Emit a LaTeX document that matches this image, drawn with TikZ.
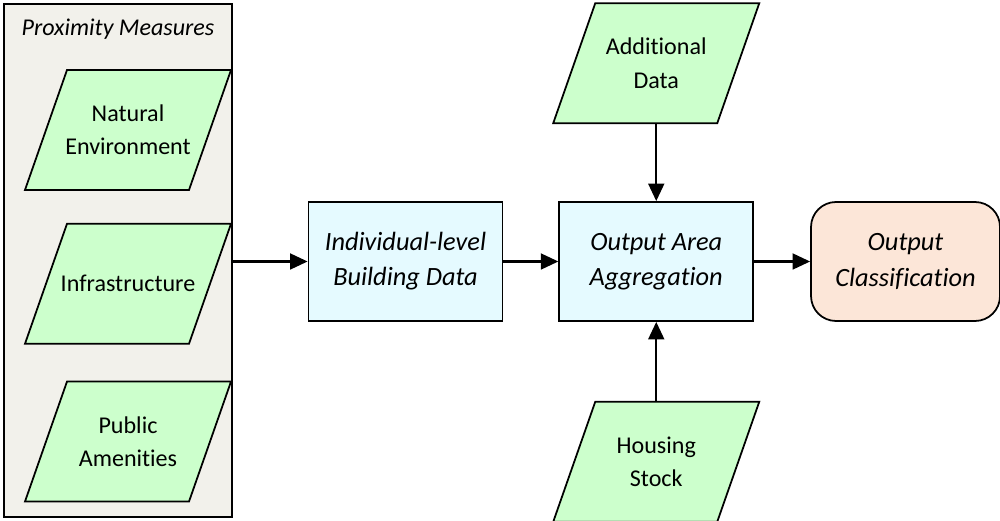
\documentclass[tikz,border=0pt]{standalone}
\usepackage{fontspec}
\setmainfont[Ligatures=NoCommon]{Carlito}
\usepackage{tikz}
\usetikzlibrary{
  shapes.geometric,
  arrows.meta,
  positioning,
  calc
}
\definecolor{datagreen}{HTML}{CCFFCC}
\definecolor{procblue}{HTML}{E5FAFF}
\definecolor{outorange}{HTML}{FCE6D8}
\definecolor{groupgray}{HTML}{F2F1EB}
\newcommand{\bodyfont}{\fontsize{13.7}{19}\selectfont}
\newcommand{\boxfont}{\fontsize{15}{20}\selectfont\itshape}
\tikzset{
  arrow/.style     = {-{Triangle[length=10pt, width=9pt]}, line width=1.4pt},
  groupbox/.style  = {draw, line width=1pt, fill=groupgray},
  datablock/.style = {draw, line width=1pt, fill=datagreen,
                      trapezium, trapezium left angle=70.7,
                      trapezium right angle=109.3,
                      inner sep=0.05cm,
                      execute at begin node={\begin{minipage}[c][2.3cm][c]{2.34cm}%
                        \centering\leftskip=-1cm plus 1fil\rightskip=-1cm plus 1fil
                        \bodyfont},
                      execute at end node={\end{minipage}}},
  procblock/.style = {draw, line width=1pt, fill=procblue,
                      minimum width=3.88cm, minimum height=2.38cm,
                      align=center, font=\boxfont},
  outblock/.style  = {draw, line width=1pt, fill=outorange,
                      rounded corners=0.5cm,
                      minimum width=3.78cm, minimum height=2.38cm,
                      align=center, font=\boxfont},
}

\begin{document}
\begin{tikzpicture}[node distance=1.1cm]
\useasboundingbox (0,0) rectangle (20,10.42);

% ========== LEFT: proximity measures ==========
\node[groupbox, minimum width=4.56cm, minimum height=10.26cm] (prox) at (2.36,5.21) {};
\node[font=\bodyfont\itshape] (proxtitle) at (2.36,9.84) {Proximity Measures};

\node[datablock] (natural) at (2.56,7.82) {Natural\\Environment};
\node[datablock, below=0.64cm of natural] (infra) {Infrastructure};
\node[datablock, below=0.72cm of infra] (public) {Public\\Amenities};

% ========== MIDDLE: processing ==========
\node[procblock] (indiv) at (8.11,5.19) {Individual-level\\Building Data};
\node[procblock, right=of indiv] (agg) {Output Area\\Aggregation};
\node[datablock, above=1.54cm of agg] (addit) {Additional\\Data};
\node[datablock, below=1.58cm of agg] (housing) {Housing\\Stock};

% ========== RIGHT: output ==========
\node[outblock, right=1.12cm of agg] (outcls) {Output\\Classification};

\draw[arrow] (prox.east |- indiv) -- (indiv);
\draw[arrow] (indiv) -- (agg);
\draw[arrow] (agg) -- (outcls);
\draw[arrow] (addit.south) -- (agg.north);
\draw[arrow] (housing.north) -- (agg.south);

\end{tikzpicture}
\end{document}
